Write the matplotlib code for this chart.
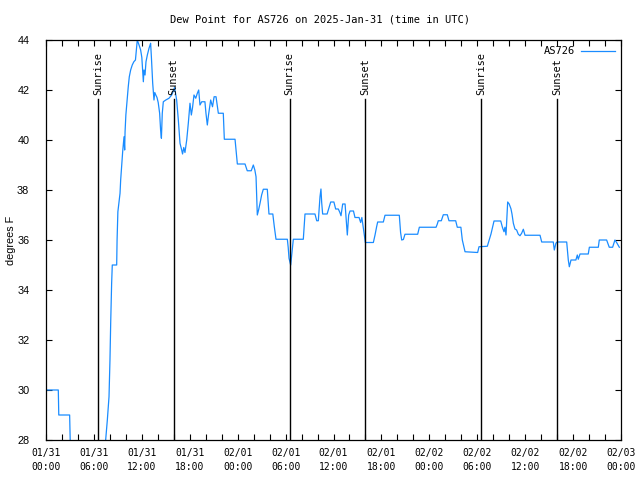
import matplotlib
matplotlib.use("Agg")
import matplotlib.pyplot as plt
import matplotlib.dates as mdates
import pandas as pd
import numpy as np

# ---- data (hours after 2025-01-31 00:00 UTC, dew point in F) ----
hours = [0.0, 1.54, 1.6, 2.96, 3.1, 7.3, 7.47, 7.68, 7.89, 8.01, 8.1, 8.22, 8.3, 8.85, 8.9,
         9.0, 9.27, 9.35, 9.48, 9.6, 9.77, 9.85, 9.9, 10.0, 10.18, 10.3, 10.43, 10.6, 10.8,
         11.0, 11.2, 11.43, 11.65, 11.85, 12.0, 12.19, 12.27, 12.4, 12.52, 12.69, 12.9, 13.1,
         13.2, 13.36, 13.52, 13.62, 13.75, 13.9, 14.05, 14.23, 14.35, 14.45, 14.56, 14.69,
         15.0, 15.4, 15.74, 16.1, 16.36, 16.57, 16.78, 16.99, 17.1, 17.25, 17.4, 17.62,
         17.82, 18.03, 18.2, 18.35, 18.53, 18.75, 18.95, 19.12, 19.28, 19.5, 19.9, 20.03,
         20.2, 20.35, 20.62, 20.85, 21.05, 21.29, 21.58, 22.2, 22.33, 23.67, 23.96, 24.92,
         25.2, 25.7, 25.96, 26.15, 26.3, 26.46, 26.62, 26.8, 27.0, 27.21, 27.71, 27.92,
         28.4, 28.59, 28.8, 30.22, 30.33, 30.43, 30.64, 30.8, 30.97, 32.22, 32.43, 33.68,
         33.9, 34.1, 34.31, 34.43, 34.52, 34.64, 35.2, 35.45, 35.65, 36.05, 36.27, 36.6,
         36.8, 36.94, 37.15, 37.45, 37.65, 37.73, 37.9, 38.07, 38.5, 38.69, 39.2, 39.4,
         39.55, 39.68, 39.86, 39.99, 40.99, 41.2, 41.4, 41.53, 42.24, 42.45, 44.24, 44.4,
         44.54, 44.75, 44.95, 46.54, 46.75, 48.84, 49.0, 49.12, 49.5, 49.75, 50.25, 50.46,
         51.3, 51.5, 51.95, 52.13, 52.47, 54.05, 54.22, 55.26, 55.5, 55.72, 55.93, 56.1,
         56.94, 57.15, 57.35, 57.47, 57.6, 57.81, 58.0, 58.22, 58.35, 58.52, 58.72, 58.93,
         59.14, 59.35, 59.56, 59.77, 59.98, 61.86, 62.07, 63.52, 63.65, 63.85, 64.0, 65.2,
         65.4, 65.53, 65.74, 66.35, 66.53, 66.65, 66.87, 67.9, 68.04, 69.16, 69.28, 70.2,
         70.53, 70.95, 71.24, 71.45, 71.79]
dewpoint = [30.0, 30.0, 29.0, 29.0, 27.0, 27.0, 28.0, 28.8, 29.73, 31.2, 32.68, 34.28, 35.0, 35.0, 36.0,
            37.13, 37.87, 38.4, 39.0, 39.53, 40.13, 39.6, 40.33, 41.0, 41.67, 42.13, 42.53, 42.8, 43.0,
            43.13, 43.2, 44.0, 43.8, 43.6, 43.3, 42.33, 42.8, 42.6, 43.13, 43.4, 43.67, 43.87,
            43.3, 42.27, 41.6, 41.9, 41.8, 41.7, 41.5, 41.07, 40.4, 40.07, 41.07, 41.53,
            41.6, 41.67, 41.8, 42.1, 41.6, 40.8, 39.87, 39.6, 39.44, 39.7, 39.5, 40.0,
            40.67, 41.47, 41.0, 41.3, 41.8, 41.67, 41.87, 42.0, 41.4, 41.53, 41.53, 41.07,
            40.6, 41.0, 41.6, 41.33, 41.73, 41.73, 41.07, 41.07, 40.03, 40.03, 39.04, 39.04,
            38.77, 38.77, 39.0, 38.8, 38.53, 37.0, 37.2, 37.47, 37.8, 38.03, 38.03, 37.04,
            37.04, 36.53, 36.03, 36.03, 35.7, 35.27, 35.0, 35.5, 36.03, 36.03, 37.04, 37.04,
            36.77, 36.77, 37.73, 38.04, 37.5, 37.04, 37.04, 37.3, 37.52, 37.52, 37.24, 37.24,
            37.1, 36.97, 37.44, 37.44, 36.53, 36.2, 37.0, 37.16, 37.16, 36.9, 36.9, 36.7,
            36.9, 36.6, 36.17, 35.9, 35.9, 36.2, 36.53, 36.72, 36.72, 36.99, 36.99, 36.3,
            36.0, 36.02, 36.23, 36.23, 36.51, 36.51, 36.64, 36.77, 36.77, 37.01, 37.01, 36.77,
            36.77, 36.51, 36.51, 36.0, 35.53, 35.5, 35.73, 35.75, 36.0, 36.24, 36.53, 36.76,
            36.76, 36.51, 36.33, 36.51, 36.2, 37.52, 37.44, 37.25, 37.04, 36.67, 36.44, 36.4,
            36.23, 36.17, 36.27, 36.43, 36.19, 36.19, 35.92, 35.92, 35.6, 35.87, 35.92, 35.92,
            35.2, 34.93, 35.2, 35.2, 35.4, 35.23, 35.44, 35.44, 35.71, 35.71, 36.0, 36.0,
            35.71, 35.71, 36.0, 35.9, 35.71]

sun_event_hours = [6.53, 15.97, 30.5, 40.0, 54.47, 64.03]
sun_event_labels = ["Sunrise", "Sunset", "Sunrise", "Sunset", "Sunrise", "Sunset"]

start = pd.Timestamp("2025-01-31 00:00")
times = start + pd.to_timedelta(hours, unit="h")
sun_times = start + pd.to_timedelta(sun_event_hours, unit="h")

mono = "DejaVu Sans Mono"
sans = "Liberation Sans"

fig = plt.figure(figsize=(6.4, 4.8), dpi=100)
ax = fig.add_axes([46 / 640, 1 - 440 / 480, 575 / 640, 400 / 480])

ax.plot(times, dewpoint, color="#1a8cff", lw=0.9, label="AS726")

for t, lab in zip(sun_times, sun_event_labels):
    ax.plot([t, t], [28, 41.65], color="black", lw=1.0)
    ax.text(t, 41.78, lab, rotation=90, ha="center", va="bottom",
            fontsize=7.4, family=mono)

ax.set_xlim(start, start + pd.Timedelta(hours=72))
ax.set_ylim(28, 44)
ax.set_yticks(np.arange(28, 45, 2))

ax.xaxis.set_major_locator(mdates.HourLocator(byhour=[0, 6, 12, 18]))
ax.xaxis.set_minor_locator(mdates.HourLocator(byhour=range(0, 24, 2)))
ax.xaxis.set_major_formatter(mdates.DateFormatter("%m/%d\n%H:%M"))

ax.tick_params(axis="both", which="both", direction="in", top=True, right=True,
               length=4, width=0.8)
ax.tick_params(axis="x", which="major", pad=6)
ax.tick_params(axis="y", which="major", pad=12)
for lbl in ax.get_xticklabels():
    lbl.set_family(mono)
    lbl.set_fontsize(7.0)
    lbl.set_linespacing(1.45)
for lbl in ax.get_yticklabels():
    lbl.set_family(sans)
    lbl.set_fontsize(7.8)

for sp in ax.spines.values():
    sp.set_linewidth(0.9)

ax.set_ylabel("degrees F", family=sans, fontsize=7.8)
ax.yaxis.set_label_coords((16 - 46) / 575, 0.5)
fig.text(0.5, 1 - 20 / 480, "Dew Point for AS726 on 2025-Jan-31 (time in UTC)",
         ha="center", va="center", family=mono, fontsize=7.5)

leg = ax.legend(loc="upper right", frameon=False, markerfirst=False,
                prop={"family": mono, "size": 7.5}, handlelength=3.2,
                borderaxespad=0.2, handletextpad=0.6)

fig.savefig("out.png", dpi=100)
